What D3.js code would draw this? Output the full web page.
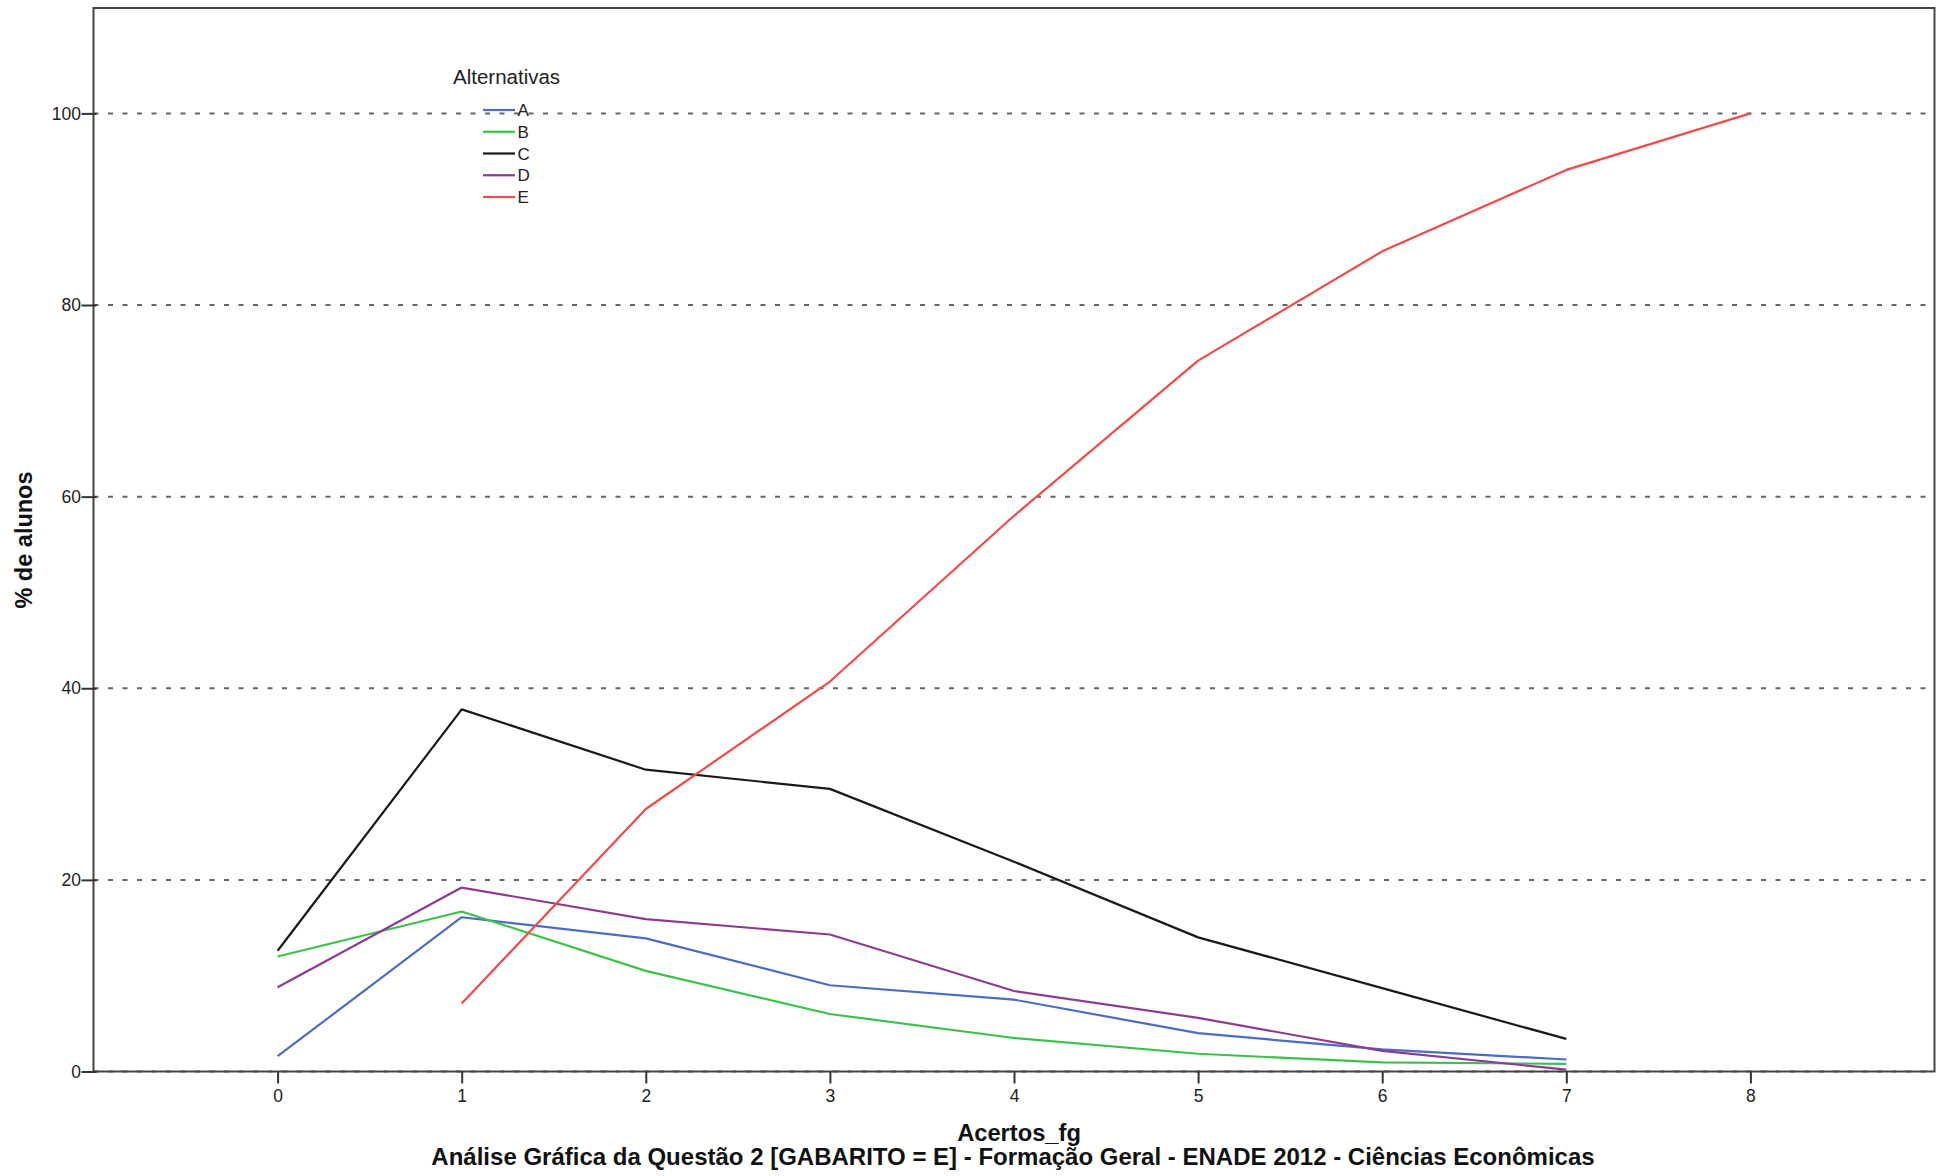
<!DOCTYPE html>
<html>
<head>
<meta charset="utf-8">
<script src="https://cdn.jsdelivr.net/npm/d3@7"></script>
<style>
  html, body { margin: 0; padding: 0; background: #fff; }
  svg { display: block; font-family: "Liberation Sans", Arial, sans-serif; }
</style>
</head>
<body>
<svg id="chart" width="1947" height="1176"></svg>
<script>
// ---- data ----
const acertos = [0, 1, 2, 3, 4, 5, 6, 7, 8];
const serieA = [1.6, 16.1, 13.9, 9.0, 7.5, 4.0, 2.3, 1.25, null];
const serieB = [12.0, 16.7, 10.5, 6.0, 3.5, 1.85, 0.95, 0.8, null];
const serieC = [12.6, 37.8, 31.5, 29.5, 21.9, 14.0, 8.7, 3.4, null];
const serieD = [8.8, 19.2, 15.9, 14.3, 8.4, 5.6, 2.15, 0.2, null];
const serieE = [null, 7.1, 27.4, 40.7, 58.0, 74.2, 85.6, 94.1, 100];
const seriesNames = ["A", "B", "C", "D", "E"];
const seriesColors = ["#4b6cc2", "#3cc24a", "#1a1a1a", "#8b3c92", "#f24a4a"];
const yTicks = [0, 20, 40, 60, 80, 100];
const xTicks = [0, 1, 2, 3, 4, 5, 6, 7, 8];
const titleText = "Análise Gráfica da Questão 2 [GABARITO = E] - Formação Geral - ENADE 2012 - Ciências Econômicas";
const xTitle = "Acertos_fg";
const yTitle = "% de alunos";
const legendTitle = "Alternativas";

const seriesData = [serieA, serieB, serieC, serieD, serieE];

// ---- layout ----
const svg = d3.select("#chart");
const L = 93.5, R = 1934.5, T = 8, B = 1071.5;
const x = d3.scaleLinear().domain([-1, 9]).range([L, R]);
const y = d3.scaleLinear().domain([0, 111]).range([B, T]);

// gridlines
svg.append("g").selectAll("line").data(yTicks).join("line")
  .attr("x1", L).attr("x2", R)
  .attr("y1", d => y(d)).attr("y2", d => y(d))
  .attr("stroke", "#666").attr("stroke-width", 2)
  .attr("stroke-dasharray", "5 9.5");

// lines
const line = d3.line()
  .defined(d => d.v !== null)
  .x(d => x(d.x)).y(d => y(d.v));
const g = svg.append("g");
seriesData.forEach((s, i) => {
  const pts = acertos.map((a, j) => ({ x: a, v: s[j] }));
  g.append("path").datum(pts)
    .attr("d", line)
    .attr("fill", "none")
    .attr("stroke", seriesColors[i])
    .attr("stroke-width", 2.2)
    .attr("stroke-linejoin", "round");
});

// frame
svg.append("rect").attr("x", L).attr("y", T)
  .attr("width", R - L).attr("height", B - T)
  .attr("fill", "none").attr("stroke", "#444").attr("stroke-width", 2);

// axes
const yAxis = d3.axisLeft(y).tickValues(yTicks).tickSize(12).tickPadding(2).tickFormat(d3.format("d"));
const yg = svg.append("g").attr("transform", `translate(${L},0)`).call(yAxis);
yg.select(".domain").remove();
yg.selectAll(".tick line").attr("x2", 3).attr("x1", -12).attr("stroke", "#333").attr("stroke-width", 2);
yg.selectAll(".tick text").attr("font-size", 17.5).attr("fill", "#222")
  .attr("font-family", "Liberation Sans, Arial, sans-serif").attr("x", -12.5);

const xAxis = d3.axisBottom(x).tickValues(xTicks).tickSize(12).tickPadding(6).tickFormat(d3.format("d"));
const xg = svg.append("g").attr("transform", `translate(0,${B})`).call(xAxis);
xg.select(".domain").remove();
xg.selectAll(".tick line").attr("stroke", "#333").attr("stroke-width", 2);
xg.selectAll(".tick text").attr("font-size", 17.5).attr("fill", "#222")
  .attr("font-family", "Liberation Sans, Arial, sans-serif");

// axis titles
svg.append("text").attr("transform", "translate(32,540) rotate(-90)")
  .attr("text-anchor", "middle").attr("font-size", 23.5).attr("font-weight", "bold")
  .attr("fill", "#111").text(yTitle);
svg.append("text").attr("x", 1019).attr("y", 1141)
  .attr("text-anchor", "middle").attr("font-size", 23.7).attr("font-weight", "bold")
  .attr("fill", "#111").text(xTitle);
svg.append("text").attr("x", 1013).attr("y", 1165)
  .attr("text-anchor", "middle").attr("font-size", 24).attr("font-weight", "bold")
  .attr("fill", "#111").text(titleText);

// legend
const lg = svg.append("g");
lg.append("text").attr("x", 453).attr("y", 84).attr("font-size", 20.5)
  .attr("fill", "#222").text(legendTitle);
const rowY = d3.scalePoint().domain(seriesNames).range([110, 197]);
seriesNames.forEach((n, i) => {
  lg.append("line").attr("x1", 483).attr("x2", 515)
    .attr("y1", rowY(n)).attr("y2", rowY(n))
    .attr("stroke", seriesColors[i]).attr("stroke-width", 2.2);
  lg.append("text").attr("x", 517.5).attr("y", rowY(n))
    .attr("dy", "0.36em").attr("font-size", 17).attr("fill", "#222").text(n);
});
</script>
</body>
</html>
